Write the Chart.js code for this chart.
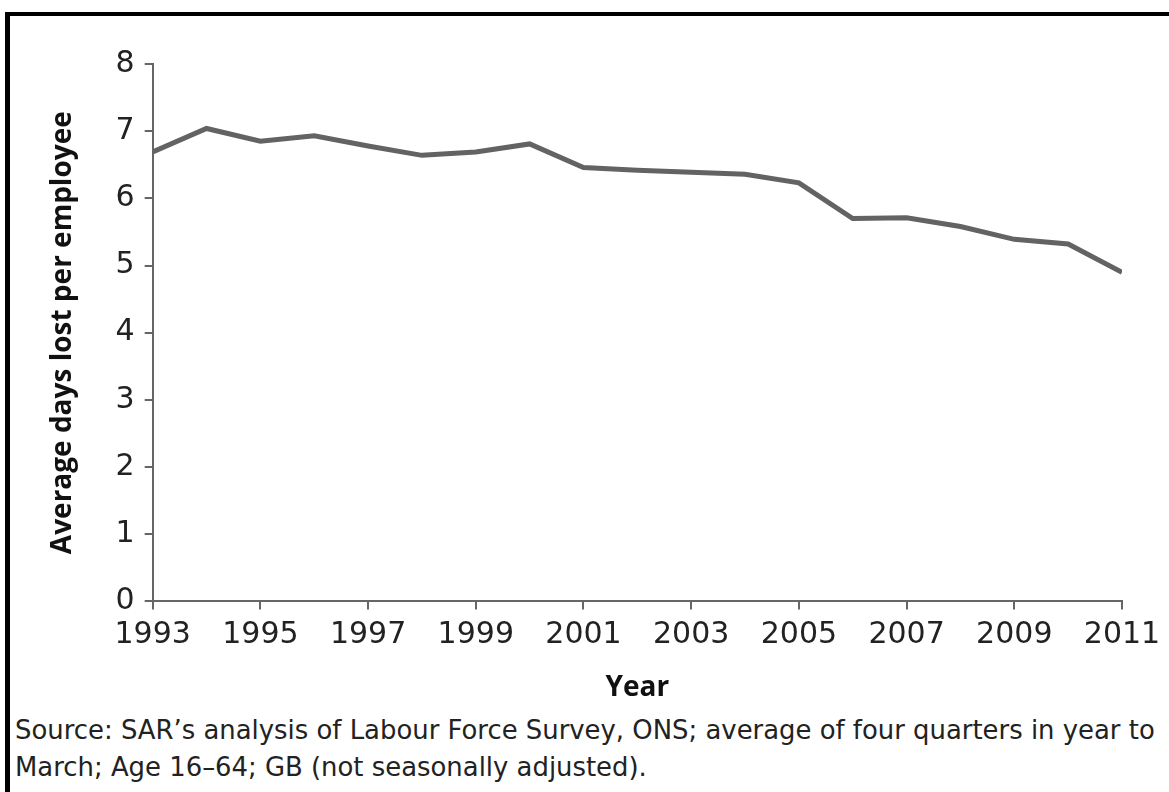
<!DOCTYPE html>
<html>
<head>
<meta charset="utf-8">
<script src="https://cdn.jsdelivr.net/npm/chart.js@4"></script>
<style>
  html, body { margin: 0; padding: 0; background: #fff; }
  body { width: 1169px; height: 792px; position: relative; overflow: hidden; font-family: "DejaVu Sans", sans-serif; }
  .frame { position: absolute; left: 5px; top: 12px; width: 1200px; height: 820px; border-top: 4px solid #000; border-left: 5px solid #000; }
  .chart-box { position: absolute; left: 10px; top: 16px; width: 1159px; height: 694px; }
  .source { position: absolute; left: 15px; top: 712px; font-size: 25.9px; line-height: 37px; color: #222; white-space: nowrap; }
</style>
</head>
<body>
<div class="frame"></div>
<div class="chart-box"><canvas id="sicknessChart"></canvas></div>
<div class="source">Source: SAR’s analysis of Labour Force Survey, ONS; average of four quarters in year to<br>March; Age 16–64; GB (not seasonally adjusted).</div>
<script>
const years = [1993, 1994, 1995, 1996, 1997, 1998, 1999, 2000, 2001, 2002,
               2003, 2004, 2005, 2006, 2007, 2008, 2009, 2010, 2011];
const daysLost = [6.69, 7.04, 6.85, 6.93, 6.78, 6.64, 6.69, 6.81, 6.46, 6.42,
                  6.39, 6.36, 6.23, 5.70, 5.71, 5.58, 5.39, 5.32, 4.90];
const yTicks = [0, 1, 2, 3, 4, 5, 6, 7, 8];

document.addEventListener('DOMContentLoaded', function () {
    const ctx = document.getElementById('sicknessChart').getContext('2d');
    const axisColor = '#666';
    const tickFont = { family: '"DejaVu Sans", sans-serif', size: 30 };
    const titleFont = { family: '"Open Sans", sans-serif', size: 28, weight: 'bold' };

    new Chart(ctx, {
        type: 'line',
        data: {
            datasets: [{
                data: years.map((y, i) => ({ x: y, y: daysLost[i] })),
                borderColor: '#636363',
                borderWidth: 5,
                pointRadius: 0,
                tension: 0,
                fill: false
            }]
        },
        options: {
            responsive: true,
            maintainAspectRatio: false,
            animation: false,
            layout: { padding: { top: 48, right: 47, bottom: 5, left: 36 } },
            plugins: { legend: { display: false }, tooltip: { enabled: false } },
            scales: {
                x: {
                    type: 'linear',
                    min: years[0],
                    max: years[years.length - 1],
                    grid: { drawOnChartArea: false, drawTicks: true, tickLength: 8, color: axisColor, lineWidth: 2 },
                    border: { display: true, color: axisColor, width: 2 },
                    ticks: {
                        stepSize: 2,
                        color: '#222',
                        font: tickFont,
                        padding: 8,
                        maxRotation: 0,
                        callback: v => String(v)
                    },
                    title: {
                        display: true,
                        text: 'Year',
                        color: '#111',
                        font: titleFont,
                        padding: { top: 10, bottom: 0 }
                    }
                },
                y: {
                    min: 0,
                    max: 8,
                    afterBuildTicks: axis => { axis.ticks = yTicks.map(v => ({ value: v })); },
                    grid: { drawOnChartArea: false, drawTicks: true, tickLength: 8, color: axisColor, lineWidth: 2 },
                    border: { display: true, color: axisColor, width: 2 },
                    ticks: { color: '#222', font: tickFont, padding: 10 },
                    title: {
                        display: true,
                        text: 'Average days lost per employee',
                        color: '#111',
                        font: titleFont,
                        padding: { top: 0, bottom: 26 }
                    }
                }
            }
        }
    });
});
</script>
</body>
</html>
